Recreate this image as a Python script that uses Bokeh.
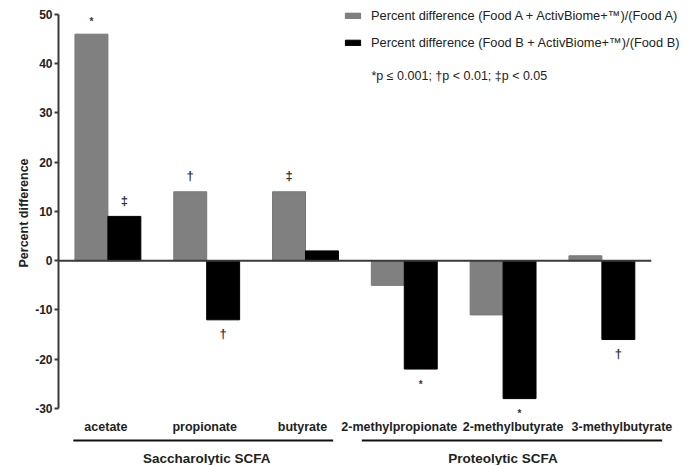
from bokeh.plotting import figure
from bokeh.models import Range1d, FixedTicker, Legend, LegendItem, Label, Title, ColumnDataSource
from bokeh.core.properties import value
from bokeh.embed import file_html
from bokeh.resources import INLINE

# ---- data ----
categories = ["acetate", "propionate", "butyrate",
              "2-methylpropionate", "2-methylbutyrate", "3-methylbutyrate"]
food_a = [46, 14, 14, -5, -11, 1]
food_b = [9, -12, 2, -22, -28, -16]
sig_a = ["*", "\u2020", "\u2021", "", "", ""]
sig_b = ["\u2021", "\u2020", "", "*", "*", "\u2020"]
group_names = ["Saccharolytic SCFA", "Proteolytic SCFA"]
group_members = [[0, 1, 2], [3, 4, 5]]
y_ticks = [-30, -20, -10, 0, 10, 20, 30, 40, 50]
legend_labels = ["Percent difference (Food A + ActivBiome+\u2122)/(Food A)",
                 "Percent difference (Food B + ActivBiome+\u2122)/(Food B)"]
footnote = "*p \u2264 0.001; \u2020p < 0.01; \u2021p < 0.05"
y_label = "Percent difference"

# ---- style / layout ----
FONT = "Liberation Sans"
GRAY = "#808080"
BLACK = "#000000"
AXIS = "#3a3a3a"
TXT = "#222222"
W, H = 691, 465
bw = 1.0 / 3.0
label_dx = [-2, -2, -3, -5, 10, 20]          # pixel nudges of category labels
line_pad = [(-0.35, 0.28), (-0.43, 0.61)]    # underline extents around groups

p = figure(width=W, height=H, output_backend="svg", toolbar_location=None,
           x_axis_type=None,
           x_range=Range1d(-0.5, 5.907), y_range=Range1d(-41.58, 52.84),
           min_border_left=58, min_border_right=0, min_border_top=0, min_border_bottom=0)
p.outline_line_color = None
p.grid.visible = False
p.background_fill_color = "white"

xs = list(range(len(categories)))
src = ColumnDataSource(dict(x=xs, a=food_a, b=food_b,
                            xa=[x - bw / 2 for x in xs], xb=[x + bw / 2 for x in xs]))
ra = p.vbar(x="xa", top="a", bottom=0, width=bw, source=src,
            fill_color=GRAY, line_color="#777777", line_width=1)
rb = p.vbar(x="xb", top="b", bottom=0, width=bw, source=src,
            fill_color=BLACK, line_color=BLACK, line_width=1)

# zero line
p.segment(x0=[-0.5], y0=[0], x1=[len(categories) - 0.5], y1=[0], line_color=AXIS, line_width=2)

# y axis
ax = p.yaxis[0]
ax.ticker = FixedTicker(ticks=y_ticks)
ax.major_label_overrides = {t: str(t) for t in y_ticks}
ax.bounds = (min(y_ticks), max(y_ticks))
ax.axis_line_color = AXIS
ax.axis_line_width = 2
ax.major_tick_line_color = AXIS
ax.major_tick_line_width = 2
ax.major_tick_out = 4
ax.major_tick_in = 0
ax.minor_tick_line_color = None
ax.major_label_text_font = FONT
ax.major_label_text_font_style = "bold"
ax.major_label_text_font_size = "12px"
ax.major_label_text_color = TXT
ax.major_label_standoff = 2

# y axis title as a left-side title, started near the bottom of the axis line
p.add_layout(Title(text=y_label, align="left", offset=198, standoff=4,
                   text_font=FONT, text_font_style="bold", text_font_size="12.5px",
                   text_color=TXT), "left")

# significance marks
ann_x, ann_y, ann_t, ann_off, ann_fs = [], [], [], [], []
for i, (va, sa, vb, sb) in enumerate(zip(food_a, sig_a, food_b, sig_b)):
    for xx, v, s in ((i - bw / 2, va, sa), (i + bw / 2, vb, sb)):
        if s:
            ann_x.append(xx)
            ann_y.append(v)
            ann_t.append(s)
            if s == "*":
                off = -13 if v > 0 else 15
                fs = "10px"
            else:
                off = -16 if v > 0 else 14
                fs = "13px"
            ann_off.append(off)
            ann_fs.append(fs)
ann_src = ColumnDataSource(dict(x=ann_x, y=ann_y, t=ann_t, off=ann_off, fs=ann_fs))
p.text(x="x", y="y", text="t", y_offset="off", text_font_size="fs", source=ann_src,
       text_align="center", text_baseline="middle",
       text_font=value(FONT), text_font_style="bold", text_color="#333333")

# category labels
p.text(x=xs, y=[-33.86] * len(xs), text=categories, x_offset=label_dx,
       text_align="center", text_baseline="middle",
       text_font=value(FONT), text_font_style="bold", text_font_size="12.5px",
       text_color=TXT)

# group underlines and labels
gx0 = [min(m) + lp[0] for m, lp in zip(group_members, line_pad)]
gx1 = [max(m) + lp[1] for m, lp in zip(group_members, line_pad)]
p.segment(x0=gx0, y0=[-36.5] * 2, x1=gx1, y1=[-36.5] * 2, line_color="#111111", line_width=2)
gcx = [sum(m) / len(m) for m in group_members]
p.text(x=gcx, y=[-40.16] * 2, text=group_names,
       text_align="center", text_baseline="middle",
       text_font=value(FONT), text_font_style="bold", text_font_size="13.5px",
       text_color=TXT)

# legend
legend = Legend(items=[LegendItem(label=legend_labels[0], renderers=[ra]),
                       LegendItem(label=legend_labels[1], renderers=[rb])],
                location=(285, 415), orientation="vertical",
                glyph_width=19, glyph_height=7, label_height=14, spacing=12,
                label_standoff=9, padding=0, margin=0,
                border_line_color=None, background_fill_alpha=0,
                label_text_font=FONT, label_text_font_size="12.8px",
                label_text_color=TXT)
p.add_layout(legend)

p.add_layout(Label(x=313, y=390, x_units="screen", y_units="screen", text=footnote,
                   text_baseline="middle", text_font=FONT, text_font_size="12.5px",
                   text_color=TXT))

open("out.html", "w").write(file_html(p, INLINE))
